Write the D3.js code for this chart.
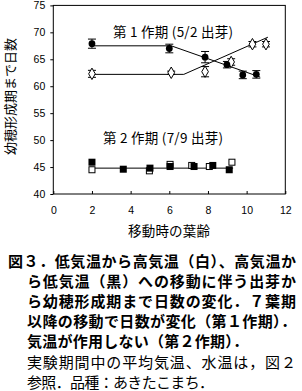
<!DOCTYPE html>
<html>
<head>
<meta charset="utf-8">
<script src="https://cdn.jsdelivr.net/npm/d3@7"></script>
<style>
  body { margin: 0; background: #fff; }
  svg { display: block; }
</style>
</head>
<body>
<div id="chart"></div>
<script>
//Period 1 (5/2), closed = high->low temp, open = low->high temp
var p1BlackX = [2.0, 6.0, 7.85, 8.98, 9.8, 10.5];
var p1BlackY = [67.9, 67.0, 65.4, 64.0, 62.1, 62.2];
var p1BlackErr = [0.85, 0.8, 1.05, 0.6, 0.7, 0.7];
var p1WhiteX = [2.0, 6.1, 7.85, 9.2, 10.3, 11.0];
var p1WhiteY = [62.3, 62.5, 62.7, 64.5, 67.8, 67.8];
var p1WhiteErr = [0.65, 0.3, 0.95, 0.6, 0.5, 0.5];
//fitted broken lines
var p1BlackFitX = [2.0, 6.1, 10.7];
var p1BlackFitY = [67.5, 67.5, 61.7];
var p1WhiteFitX = [2.0, 6.75, 11.1];
var p1WhiteFitY = [62.2, 62.2, 69.1];

//Period 2 (7/9)
var p2BlackX = [2.0, 3.62, 5.0, 6.04, 7.28, 8.25, 9.1];
var p2BlackY = [45.9, 44.6, 44.8, 45.1, 45.1, 45.3, 44.5];
var p2WhiteX = [2.0, 4.97, 6.04, 7.16, 8.07, 9.24];
var p2WhiteY = [44.5, 44.3, 45.5, 45.3, 45.1, 45.9];
var p2FitX = [2.0, 9.3];
var p2FitY = [44.8, 44.8];

var xTicks = [0, 2, 4, 6, 8, 10, 12];
var yTicks = [40, 45, 50, 55, 60, 65, 70, 75];

var captionBold = [
  "図３．低気温から高気温（白）、高気温か",
  "ら低気温（黒）への移動に伴う出芽か",
  "ら幼穂形成期まで日数の変化．７葉期",
  "以降の移動で日数が変化（第１作期）．",
  "気温が作用しない（第２作期）．"
];
var captionNormal = [
  "実験期間中の平均気温、水温は，図２",
  "参照．品種：あきたこまち．"
];

var width = 302,
  height = 391;
var margin = { left: 53.3, top: 5.4, right: 16.7, bottom: 197 };

var svg = d3
  .select("#chart")
  .append("svg")
  .attr("width", width)
  .attr("height", height);

var x = d3.scaleLinear().domain([0, 12]).range([margin.left, width - margin.right]);
var y = d3.scaleLinear().domain([40, 75]).range([height - margin.bottom, margin.top]);

var numFont = "'Liberation Sans', Arial, sans-serif";
var jpFont = "'Noto Sans CJK JP', sans-serif";

//frame
svg
  .append("rect")
  .attr("x", x(0))
  .attr("y", y(75))
  .attr("width", x(12) - x(0))
  .attr("height", y(40) - y(75))
  .attr("fill", "none")
  .attr("stroke", "#000")
  .attr("stroke-width", 1);

//axes
var xAxis = svg
  .append("g")
  .attr("transform", "translate(0," + y(40) + ")")
  .call(d3.axisBottom(x).tickValues(xTicks).tickSizeInner(-3).tickSizeOuter(0));
xAxis.select(".domain").remove();
xAxis
  .selectAll("text")
  .attr("y", 13)
  .style("font-family", numFont)
  .style("font-size", "10.5px")
  .attr("fill", "#000");

var yAxis = svg
  .append("g")
  .attr("transform", "translate(" + x(0) + ",0)")
  .call(d3.axisLeft(y).tickValues(yTicks).tickSizeInner(3).tickSizeOuter(0));
yAxis.select(".domain").remove();
yAxis
  .selectAll("text")
  .attr("x", -8)
  .style("font-family", numFont)
  .style("font-size", "10.5px")
  .attr("fill", "#000");

//stretch a text to a given width with letter-spacing (last char keeps no gap)
function fitText(sel, w) {
  var n = sel.text().length;
  var natural = sel.node().getComputedTextLength();
  sel.style("letter-spacing", ((w - natural) / Math.max(n - 1, 1)) + "px");
}

function label(px, py, txt, size, w, rot) {
  var t = svg
    .append("text")
    .attr("dominant-baseline", "central")
    .style("font-family", jpFont)
    .style("font-size", size + "px")
    .text(txt);
  if (rot) t.attr("transform", "translate(" + px + "," + py + ") rotate(-90)");
  else t.attr("x", px).attr("y", py);
  fitText(t, w);
  return t;
}

//axis titles
label(128, 230, "移動時の葉齢", 13.5, 82);
label(9.5, 155, "幼穂形成期まで日数", 13, 117, true);

//period labels
label(113, 31, "第 1 作期 (5/2 出芽)", 13.5, 120);
label(103, 137, "第 2 作期 (7/9 出芽)", 13.5, 120);

//fit lines
var line = d3
  .line()
  .x(function (d) { return x(d[0]); })
  .y(function (d) { return y(d[1]); });

function drawLine(xs, ys) {
  svg
    .append("path")
    .datum(d3.zip(xs, ys))
    .attr("d", line)
    .attr("fill", "none")
    .attr("stroke", "#000")
    .attr("stroke-width", 1);
}
drawLine(p1BlackFitX, p1BlackFitY);
drawLine(p1WhiteFitX, p1WhiteFitY);
drawLine(p2FitX, p2FitY);

//error bars
function drawErr(xs, ys, es) {
  var g = svg.append("g").attr("stroke", "#000").attr("stroke-width", 1);
  d3.zip(xs, ys, es).forEach(function (d) {
    var cx = x(d[0]);
    g.append("line").attr("x1", cx).attr("x2", cx).attr("y1", y(d[1] - d[2])).attr("y2", y(d[1] + d[2]));
    g.append("line").attr("x1", cx - 4).attr("x2", cx + 4).attr("y1", y(d[1] - d[2])).attr("y2", y(d[1] - d[2]));
    g.append("line").attr("x1", cx - 4).attr("x2", cx + 4).attr("y1", y(d[1] + d[2])).attr("y2", y(d[1] + d[2]));
  });
}
drawErr(p1BlackX, p1BlackY, p1BlackErr);
drawErr(p1WhiteX, p1WhiteY, p1WhiteErr);

//markers
svg
  .append("g")
  .selectAll("path")
  .data(d3.zip(p1WhiteX, p1WhiteY))
  .enter()
  .append("path")
  .attr("d", d3.symbol(d3.symbolDiamond, 38))
  .attr("transform", function (d) { return "translate(" + x(d[0]) + "," + y(d[1]) + ")"; })
  .attr("fill", "#fff")
  .attr("stroke", "#000")
  .attr("stroke-width", 1);

svg
  .append("g")
  .selectAll("circle")
  .data(d3.zip(p1BlackX, p1BlackY))
  .enter()
  .append("circle")
  .attr("cx", function (d) { return x(d[0]); })
  .attr("cy", function (d) { return y(d[1]); })
  .attr("r", 3.4)
  .attr("fill", "#000");

svg
  .append("g")
  .selectAll("rect")
  .data(d3.zip(p2WhiteX, p2WhiteY))
  .enter()
  .append("rect")
  .attr("x", function (d) { return x(d[0]) - 3; })
  .attr("y", function (d) { return y(d[1]) - 3; })
  .attr("width", 6)
  .attr("height", 6)
  .attr("fill", "#fff")
  .attr("stroke", "#000")
  .attr("stroke-width", 1);

svg
  .append("g")
  .selectAll("rect")
  .data(d3.zip(p2BlackX, p2BlackY))
  .enter()
  .append("rect")
  .attr("x", function (d) { return x(d[0]) - 3.5; })
  .attr("y", function (d) { return y(d[1]) - 3.5; })
  .attr("width", 7)
  .attr("height", 7)
  .attr("fill", "#000");

//caption
var capX = [8, 27, 27, 27, 27];
var capEnd = [296, 296, 296, 296, 248];
captionBold.forEach(function (t, i) {
  var tx = svg
    .append("text")
    .attr("x", capX[i])
    .attr("y", 260.5 + i * 20)
    .attr("dominant-baseline", "central")
    .style("font-family", jpFont)
    .style("font-size", "15px")
    .style("font-weight", "bold")
    .text(t);
  fitText(tx, capEnd[i] - capX[i]);
});
var capEnd2 = [296, 214];
captionNormal.forEach(function (t, i) {
  var tx = svg
    .append("text")
    .attr("x", 27)
    .attr("y", 361.5 + i * 20)
    .attr("dominant-baseline", "central")
    .style("font-family", jpFont)
    .style("font-size", "15px")
    .text(t);
  fitText(tx, capEnd2[i] - 27);
});
</script>
</body>
</html>
